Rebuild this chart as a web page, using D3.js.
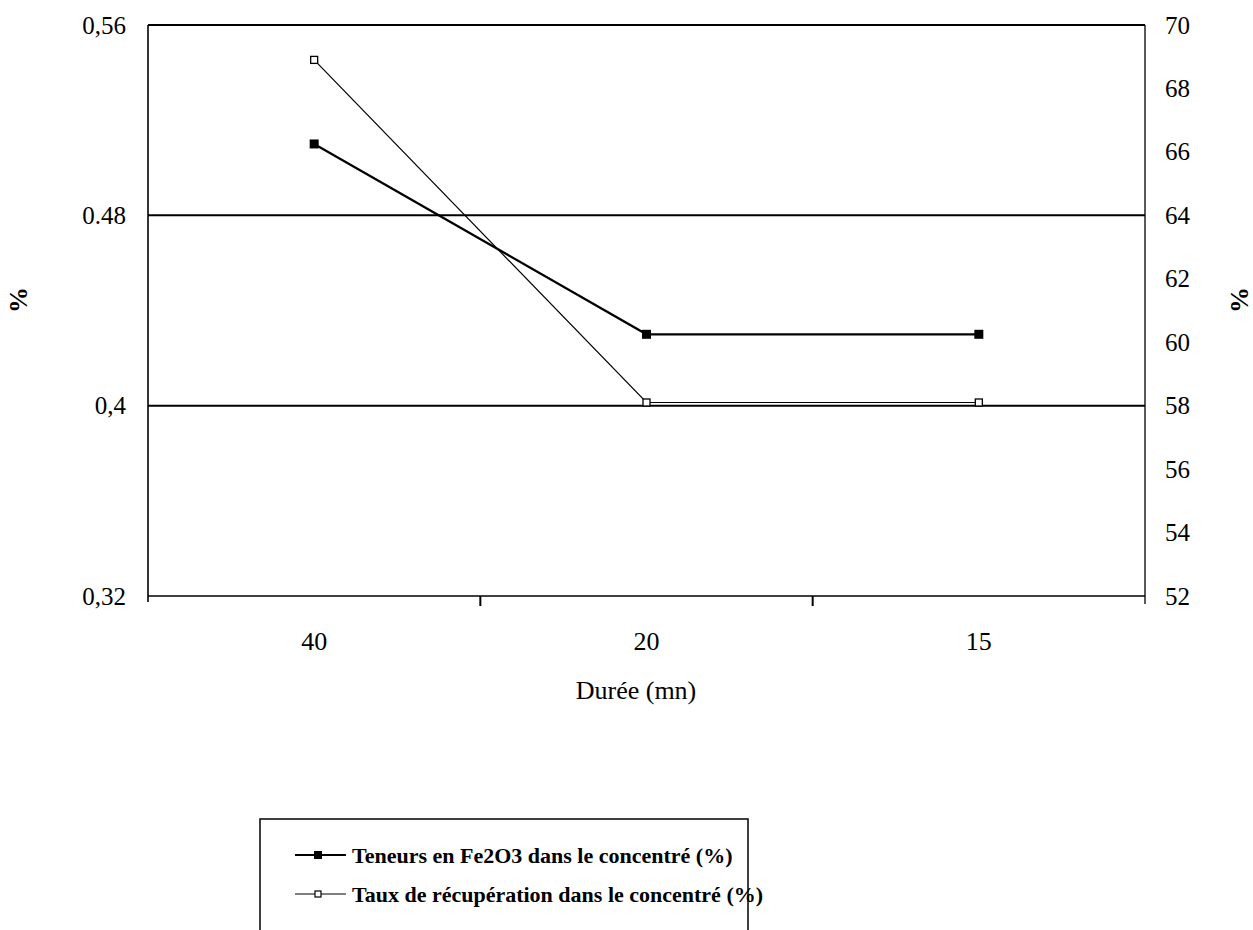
<!DOCTYPE html>
<html><head><meta charset="utf-8">
<script src="https://cdn.jsdelivr.net/npm/d3@7"></script>
<style>
body{margin:0;background:#fff;}
svg{display:block;font-family:"Liberation Serif","Times New Roman",serif;}
</style></head>
<body>
<svg id="c" width="1253" height="930"></svg>
<script>
const categories = ["40","20","15"];
const teneurs = [0.51, 0.43, 0.43];
const taux = [68.9, 58.1, 58.1];
const leftTicks = [0.32, 0.40, 0.48, 0.56];
const leftTickLabels = ["0,32","0,4","0.48","0,56"];
const rightTicks = [52,54,56,58,60,62,64,66,68,70];
const gridValues = [0.40, 0.48];
const seriesNames = ["Teneurs en Fe2O3 dans le concentré (%)","Taux de récupération dans le concentré (%)"];
const xTitle = "Durée (mn)";
const yTitle = "%";

const svg = d3.select("#c");
const L = 148, R = 1145, T = 25, B = 596;

const x = d3.scalePoint().domain(categories).range([L, R]).padding(0.5);
const yL = d3.scaleLinear().domain([0.32, 0.56]).range([B, T]);
const yR = d3.scaleLinear().domain([52, 70]).range([B, T]);

// gridlines
svg.append("g").selectAll("line").data(gridValues).join("line")
  .attr("x1", L).attr("x2", R).attr("y1", d => yL(d)).attr("y2", d => yL(d))
  .attr("stroke", "#000").attr("stroke-width", 2);

// frame
svg.append("line").attr("x1", L).attr("x2", R).attr("y1", T).attr("y2", T).attr("stroke","#000").attr("stroke-width",2);
svg.append("line").attr("x1", R).attr("x2", R).attr("y1", T).attr("y2", B+8).attr("stroke","#000").attr("stroke-width",1.3);

// left axis
const gl = svg.append("g").attr("transform", `translate(${L},0)`)
  .call(d3.axisLeft(yL).tickValues(leftTicks).tickSize(0).tickPadding(22)
    .tickFormat((d,i) => leftTickLabels[i]));
gl.select(".domain").attr("stroke-width", 1.6).attr("d", `M0,${T}V${B+6}`);
gl.selectAll("text").attr("font-size", 25).attr("font-family", "Liberation Serif").attr("fill","#000");

// right axis
const gr = svg.append("g").attr("transform", `translate(${R},0)`)
  .call(d3.axisRight(yR).tickValues(rightTicks).tickSize(0).tickPadding(20));
gr.select(".domain").remove();
gr.selectAll("text").attr("font-size", 25).attr("font-family", "Liberation Serif").attr("fill","#000");

// bottom axis
const step = x.step();
const bounds = d3.range(categories.length + 1).map(i => L + i * step);
svg.append("line").attr("x1", L).attr("x2", R).attr("y1", B).attr("y2", B).attr("stroke","#000").attr("stroke-width",1.6);
svg.append("g").selectAll("line").data(bounds.slice(1, -1)).join("line")
  .attr("x1", d => d).attr("x2", d => d).attr("y1", B).attr("y2", B + 10)
  .attr("stroke","#000").attr("stroke-width",2);
svg.append("g").selectAll("text").data(categories).join("text")
  .attr("x", d => x(d)).attr("y", 650).attr("text-anchor","middle")
  .attr("font-size", 26).text(d => d);

// titles
svg.append("text").attr("x", 636).attr("y", 699).attr("text-anchor","middle").attr("font-size", 26).text(xTitle);
svg.append("text").attr("transform","translate(27,300) rotate(-90)").attr("text-anchor","middle")
  .attr("font-size", 26).attr("font-weight","bold").text(yTitle);
svg.append("text").attr("transform","translate(1248,300) rotate(-90)").attr("text-anchor","middle")
  .attr("font-size", 26).attr("font-weight","bold").text(yTitle);

// series 1
const line1 = d3.line().x((d,i) => x(categories[i])).y(d => yL(d));
svg.append("path").attr("d", line1(teneurs)).attr("fill","none").attr("stroke","#000").attr("stroke-width",2.2);
svg.append("g").selectAll("rect").data(teneurs).join("rect")
  .attr("x", (d,i) => x(categories[i]) - 4.5).attr("y", d => yL(d) - 4.5)
  .attr("width", 9).attr("height", 9).attr("fill","#000");

// series 2
const line2 = d3.line().x((d,i) => x(categories[i])).y(d => yR(d));
svg.append("path").attr("d", line2(taux)).attr("fill","none").attr("stroke","#000").attr("stroke-width",1.2);
svg.append("g").selectAll("rect").data(taux).join("rect")
  .attr("x", (d,i) => x(categories[i]) - 3.5).attr("y", d => yR(d) - 3.5)
  .attr("width", 7).attr("height", 7).attr("fill","#fff").attr("stroke","#000").attr("stroke-width",1.3);

// legend
const lg = svg.append("g");
lg.append("rect").attr("x", 260).attr("y", 819).attr("width", 488).attr("height", 130)
  .attr("fill","none").attr("stroke","#000").attr("stroke-width",1.5);
const rows = [855, 894];
seriesNames.forEach((name, i) => {
  const yy = rows[i];
  lg.append("line").attr("x1", 295).attr("x2", 346).attr("y1", yy).attr("y2", yy)
    .attr("stroke","#000").attr("stroke-width", i === 0 ? 1.8 : 1.2);
  if (i === 0) {
    lg.append("rect").attr("x", 318-4).attr("y", yy-4).attr("width", 8).attr("height", 8).attr("fill","#000");
  } else {
    lg.append("rect").attr("x", 318-3).attr("y", yy-3).attr("width", 6).attr("height", 6)
      .attr("fill","#fff").attr("stroke","#000").attr("stroke-width",1.2);
  }
  lg.append("text").attr("x", 352).attr("y", yy + 8).attr("font-size", 22).attr("font-weight","bold").text(name);
});
</script>
</body></html>
